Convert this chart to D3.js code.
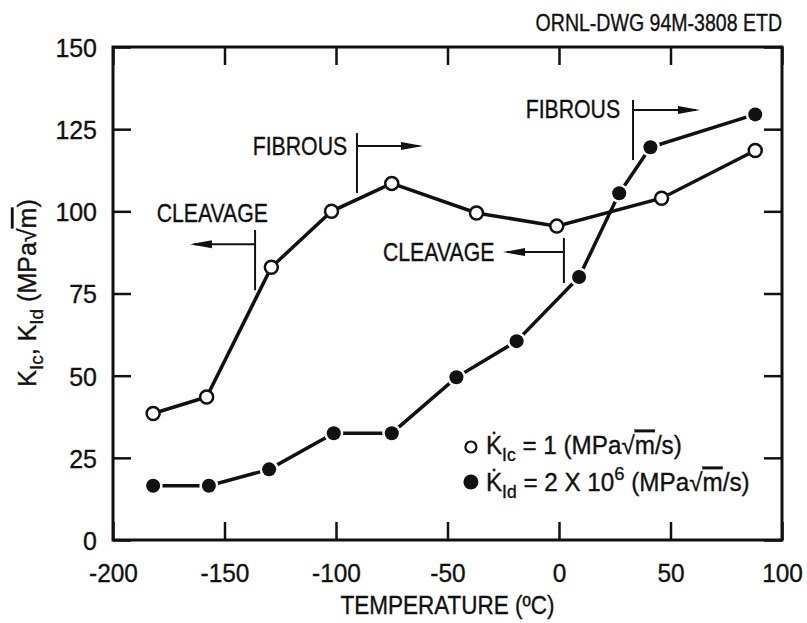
<!DOCTYPE html>
<html>
<head>
<meta charset="utf-8">
<script src="https://cdn.jsdelivr.net/npm/d3@7"></script>
<style>
  body { margin: 0; background: #fff; }
  svg text { font-family: "Liberation Sans", Arial, sans-serif; fill: #111; stroke: #111; stroke-width: 0.35px; }
</style>
</head>
<body>
<div id="chart"></div>
<script>
/* data */
const tempIc = [-182, -158, -129, -102, -75, -37, -1, 46, 88];
const kIc = [38.5, 43.5, 83, 100, 108.5, 99.5, 95.5, 104, 118.5];
const tempId = [-182, -157, -130, -101, -75, -46, -19, 9, 27, 41, 88];
const kId = [16.5, 16.5, 21.5, 32.5, 32.5, 49.5, 60.5, 80, 105.5, 119.5, 129.5];
const xTicks = [-200, -150, -100, -50, 0, 50, 100];
const yTicks = [0, 25, 50, 75, 100, 125, 150];

// transition markers (temperature / K units)
const notes = [
  { label: "CLEAVAGE", bar: -136.3, top: 94.3, bottom: 76, arrowY: 90, tip: -165.5, textEnd: -130.5, textY: 99.5 },
  { label: "FIBROUS", bar: -90.6, top: 123.8, bottom: 105.6, arrowY: 119.9, tip: -61, textEnd: -95, textY: 120 },
  { label: "CLEAVAGE", bar: 2.2, top: 91.9, bottom: 78.2, arrowY: 87.6, tip: -25.1, textEnd: -29, textY: 87.6 },
  { label: "FIBROUS", bar: 33.2, top: 133.9, bottom: 115.6, arrowY: 130.8, tip: 63.2, textEnd: 27.4, textY: 131 }
];

/* svg setup */
const margin = { top: 47, right: 25, bottom: 83, left: 113 };
const width = 807 - margin.left - margin.right;
const height = 623 - margin.top - margin.bottom;

const svg = d3.select("#chart").append("svg")
  .attr("width", 807).attr("height", 623);
const g = svg.append("g")
  .attr("transform", `translate(${margin.left},${margin.top})`);

// condensed text helper (the drawing uses a narrow face)
function label(parent, px, py, size, anchor, sx, extra = "") {
  return parent.append("text")
    .attr("transform", `translate(${px},${py}) ${extra} scale(${sx},1)`)
    .attr("text-anchor", anchor)
    .style("font-size", size + "px");
}

const x = d3.scaleLinear().domain([-200, 100]).range([0, width]);
const y = d3.scaleLinear().domain([0, 150]).range([height, 0]);

const tick = 18;
const styleAxis = (sel) => {
  sel.select(".domain").remove();
  sel.selectAll("line").attr("stroke", "#111").attr("stroke-width", 2.5);
};
const plain = (d) => String(d);

// bottom axis with labels
g.append("g").attr("transform", `translate(0,${height})`)
  .call(d3.axisBottom(x).tickValues(xTicks).tickFormat(plain)
    .tickSizeInner(-tick).tickSizeOuter(0).tickPadding(0))
  .call(styleAxis)
  .call((a) => a.selectAll("text").attr("y", null).attr("dy", null)
    .attr("transform", "translate(0,42) scale(0.94,1)")
    .style("font-size", "26px").attr("fill", "#111"));
// left axis with labels
g.append("g")
  .call(d3.axisLeft(y).tickValues(yTicks).tickFormat(plain)
    .tickSizeInner(-tick).tickSizeOuter(0).tickPadding(0))
  .call(styleAxis)
  .call((a) => a.selectAll("text").attr("x", null).attr("dy", "0.36em")
    .attr("transform", "translate(-16,0) scale(0.96,1)")
    .style("font-size", "26px").attr("fill", "#111"));
// top and right ticks, no labels
g.append("g")
  .call(d3.axisTop(x).tickValues(xTicks).tickSizeInner(-tick).tickSizeOuter(0).tickFormat(""))
  .call(styleAxis);
g.append("g").attr("transform", `translate(${width},0)`)
  .call(d3.axisRight(y).tickValues(yTicks).tickSizeInner(-tick).tickSizeOuter(0).tickFormat(""))
  .call(styleAxis);

// frame
g.append("rect")
  .attr("x", 0).attr("y", 0).attr("width", width).attr("height", height)
  .attr("fill", "none").attr("stroke", "#111").attr("stroke-width", 3);

/* series */
const line = d3.line().x((d) => x(d[0])).y((d) => y(d[1]));
const ptsIc = tempIc.map((t, i) => [t, kIc[i]]);
const ptsId = tempId.map((t, i) => [t, kId[i]]);

g.append("path").datum(ptsId).attr("d", line)
  .attr("fill", "none").attr("stroke", "#111").attr("stroke-width", 3.5);
g.append("path").datum(ptsIc).attr("d", line)
  .attr("fill", "none").attr("stroke", "#111").attr("stroke-width", 3.5);

// filled markers with a small white gap round them
g.selectAll(".halo").data(ptsId).enter().append("circle")
  .attr("cx", (d) => x(d[0])).attr("cy", (d) => y(d[1]))
  .attr("r", 9.5).attr("fill", "#fff");
g.selectAll(".dotId").data(ptsId).enter().append("circle")
  .attr("cx", (d) => x(d[0])).attr("cy", (d) => y(d[1]))
  .attr("r", 7).attr("fill", "#111");
g.selectAll(".dotIc").data(ptsIc).enter().append("circle")
  .attr("cx", (d) => x(d[0])).attr("cy", (d) => y(d[1]))
  .attr("r", 6.5).attr("fill", "#fff").attr("stroke", "#111").attr("stroke-width", 2.5);

/* CLEAVAGE / FIBROUS markers */
notes.forEach((n) => {
  const ng = g.append("g");
  ng.append("line")
    .attr("x1", x(n.bar)).attr("x2", x(n.bar))
    .attr("y1", y(n.top)).attr("y2", y(n.bottom))
    .attr("stroke", "#111").attr("stroke-width", 2);
  const dir = n.tip > n.bar ? 1 : -1;
  const tx = x(n.tip), ty = y(n.arrowY);
  ng.append("line")
    .attr("x1", x(n.bar)).attr("x2", tx - dir * 4)
    .attr("y1", ty).attr("y2", ty)
    .attr("stroke", "#111").attr("stroke-width", 2);
  ng.append("path")
    .attr("d", `M${tx},${ty} L${tx - dir * 22},${ty - 4} L${tx - dir * 22},${ty + 4} Z`)
    .attr("fill", "#111");
  label(ng, x(n.textEnd), y(n.textY), 25, "end", 0.85)
    .attr("dy", "0.36em")
    .text(n.label);
});

/* legend */
const lg = g.append("g").attr("transform", `translate(${x(-39.5)},${y(28.3)})`);
lg.append("circle").attr("cx", 0).attr("cy", 0).attr("r", 5.5)
  .attr("fill", "#fff").attr("stroke", "#111").attr("stroke-width", 2.2);
lg.append("circle").attr("cx", 0).attr("cy", 35).attr("r", 7.5).attr("fill", "#111");

function kDot(t, sub) {
  t.append("tspan").text("K\u0307");
  t.append("tspan").attr("dy", 7).style("font-size", "18px").text(sub);
  t.append("tspan").attr("dy", -7).text(" ");
}
const l1 = label(lg, 15, 7, 25, "start", 0.97);
kDot(l1, "Ic");
l1.append("tspan").text("= 1 (MPa\u221A");
l1.append("tspan").style("text-decoration", "overline").text("m");
l1.append("tspan").text("/s)");

const l2 = label(lg, 15, 44, 25, "start", 0.97);
kDot(l2, "Id");
l2.append("tspan").text("= 2 X 10");
l2.append("tspan").attr("dy", -11).style("font-size", "19px").text("6");
l2.append("tspan").attr("dy", 11).text(" (MPa\u221A");
l2.append("tspan").style("text-decoration", "overline").text("m");
l2.append("tspan").text("/s)");

/* axis titles */
label(svg, margin.left + width / 2, 614, 25, "middle", 0.9)
  .text("TEMPERATURE (\u00BAC)");

const yl = label(svg, 36, 293, 25, "middle", 1, "rotate(-90)");
yl.append("tspan").text("K");
yl.append("tspan").attr("dy", 7).style("font-size", "19px").text("Ic");
yl.append("tspan").attr("dy", -7).text(", K");
yl.append("tspan").attr("dy", 7).style("font-size", "19px").text("Id");
yl.append("tspan").attr("dy", -7).text(" (MPa\u221A");
yl.append("tspan").style("text-decoration", "overline").text("m");
yl.append("tspan").text(")");

label(svg, 782, 31, 23, "end", 0.85)
  .text("ORNL-DWG 94M-3808 ETD");
</script>
</body>
</html>
